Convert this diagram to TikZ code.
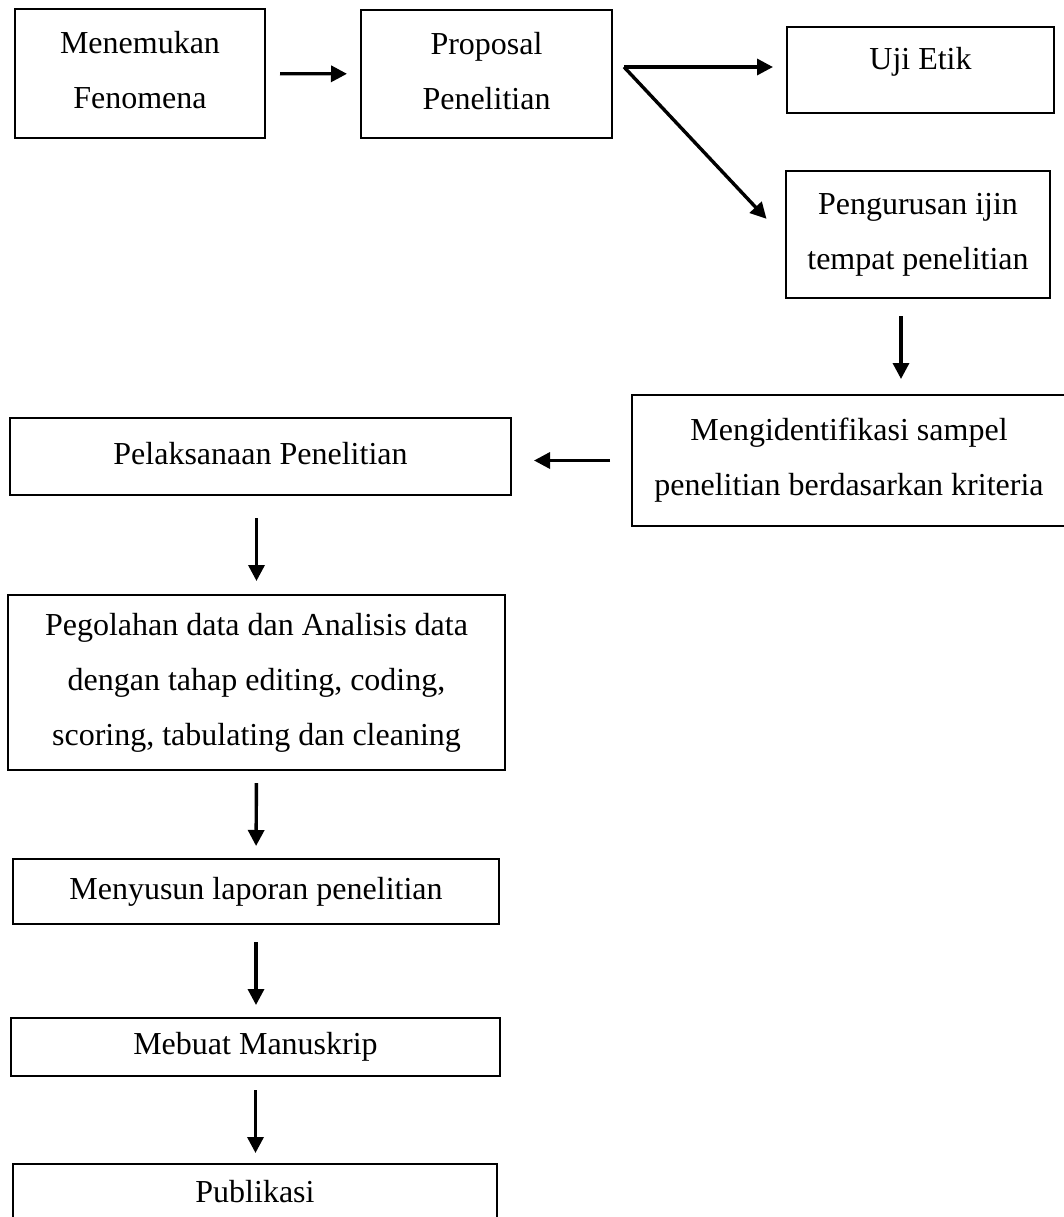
\documentclass[tikz,border=0pt]{standalone}
\usepackage{fontspec}
\setmainfont{Liberation Serif}
\usetikzlibrary{arrows.meta}

\begin{document}
\begin{tikzpicture}[x=0.5pt, y=-0.5pt, font=\fontsize{16}{27.5}\selectfont,
    box/.style={draw, line width=1pt, align=center, inner sep=0pt, text depth=3.5pt},
    arr/.style={line width=1.7pt, -{Triangle[length=8pt, width=8pt]}}]
  \clip (0,0) rectangle (1064,1217);
  % top row
  \node[box, minimum width=125pt, minimum height=64.5pt] (fenomena) at (140,73.5) {Menemukan\\Fenomena};
  \node[box, minimum width=125.5pt, minimum height=64pt] (proposal) at (486.5,74) {Proposal\\Penelitian};
  \node[box, minimum width=133.5pt, minimum height=43pt, text height=11pt, text depth=12pt] (etik) at (920.5,70) {Uji Etik};
  \node[box, minimum width=132pt, minimum height=63.5pt] (ijin) at (918,234.5) {Pengurusan ijin\\tempat penelitian};
  \node[box, minimum width=217pt, minimum height=65.5pt] (sampel) at (849,460.5) {Mengidentifikasi sampel\\penelitian berdasarkan kriteria};
  % left column
  \node[box, minimum width=250.5pt, minimum height=38.5pt] (pelaksanaan) at (260.5,456.5) {Pelaksanaan Penelitian};
  \node[box, minimum width=248.5pt, minimum height=87.5pt] (olah) at (256.5,682.5) {Pegolahan data dan Analisis data\\dengan tahap editing, coding,\\scoring, tabulating dan cleaning};
  \node[box, minimum width=243pt, minimum height=32.5pt] (laporan) at (256,891.5) {Menyusun laporan penelitian};
  \node[box, minimum width=244.5pt, minimum height=29pt] (manuskrip) at (255.5,1047) {Mebuat Manuskrip};
  \node[box, minimum width=242pt, minimum height=31pt] (publikasi) at (255,1195) {Publikasi};
  \coordinate (fork) at ([xshift=5.5pt, yshift=3.5pt]proposal.east);

  \draw[arr, shorten <=7pt, shorten >=6.5pt] (fenomena) -- (proposal);
  \draw[arr, shorten >=6.5pt] (fork) -- (fork -| etik.west);
  \draw[arr, shorten >=13.5pt] (fork) -- ([yshift=-2pt]ijin.west);
  \draw[arr, shorten <=8.5pt, shorten >=7.5pt] ([xshift=-8.5pt]ijin.south) -- ([xshift=-8.5pt]ijin.south |- sampel.north);
  \draw[arr, shorten <=10.5pt, shorten >=11pt] (sampel.west) -- (sampel.west -| pelaksanaan.east);
  \draw[arr, shorten <=11pt, shorten >=6.5pt] (olah.north |- pelaksanaan.south) -- (olah.north);
  \draw[arr, shorten <=6pt, shorten >=6pt] (olah.south) -- (laporan.north);
  \draw[arr, shorten <=8.5pt, shorten >=6pt] (laporan.south) -- (laporan.south |- manuskrip.north);
  \draw[arr, shorten <=6.5pt, shorten >=5pt] (manuskrip.south) -- (manuskrip.south |- publikasi.north);
\end{tikzpicture}
\end{document}
